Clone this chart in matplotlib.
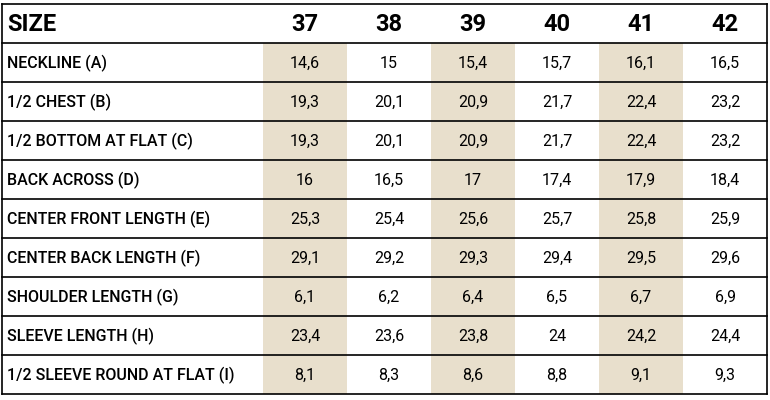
import matplotlib.pyplot as plt
from matplotlib.patches import Rectangle

sizes = ['37', '38', '39', '40', '41', '42']
measures = ['NECKLINE (A)', '1/2 CHEST (B)', '1/2 BOTTOM AT FLAT (C)', 'BACK ACROSS (D)',
            'CENTER FRONT LENGTH (E)', 'CENTER BACK LENGTH (F)', 'SHOULDER LENGTH (G)',
            'SLEEVE LENGTH (H)', '1/2 SLEEVE ROUND AT FLAT (I)']
values = [
    ['14,6', '15', '15,4', '15,7', '16,1', '16,5'],
    ['19,3', '20,1', '20,9', '21,7', '22,4', '23,2'],
    ['19,3', '20,1', '20,9', '21,7', '22,4', '23,2'],
    ['16', '16,5', '17', '17,4', '17,9', '18,4'],
    ['25,3', '25,4', '25,6', '25,7', '25,8', '25,9'],
    ['29,1', '29,2', '29,3', '29,4', '29,5', '29,6'],
    ['6,1', '6,2', '6,4', '6,5', '6,7', '6,9'],
    ['23,4', '23,6', '23,8', '24', '24,2', '24,4'],
    ['8,1', '8,3', '8,6', '8,8', '9,1', '9,3'],
]

plt.rcParams['font.family'] = 'Roboto'
fig = plt.figure(figsize=(7.7, 4), dpi=100)
ax = fig.add_axes([0, 0, 1, 1])
ax.set_xlim(0, 770)
ax.set_ylim(400, 0)
ax.axis('off')

left, right = 2, 767
top, head = 4, 43
rowh = 39
col0 = 263
colw = 84
shade = '#E8DFCC'

bottom = head + rowh * len(measures)
for j in range(0, len(sizes), 2):
    ax.add_patch(Rectangle((col0 + j * colw, head), colw, bottom - head, color=shade, lw=0))

ax.text(7, (top + head) / 2 + 1, 'SIZE', fontsize=17, fontweight='bold', va='center')
for j, s in enumerate(sizes):
    ax.text(col0 + (j + 0.5) * colw, (top + head) / 2 + 1, s, fontsize=17,
            fontweight='bold', ha='center', va='center')

for i, m in enumerate(measures):
    yc = head + (i + 0.5) * rowh + 1
    ax.text(7, yc, m, fontsize=11.5, fontweight='medium', va='center')
    for j, v in enumerate(values[i]):
        ax.text(col0 + (j + 0.5) * colw, yc, v, fontsize=11.5, ha='center', va='center')

for k in range(len(measures) + 1):
    y = head + k * rowh
    ax.plot([left, right], [y, y], color='black', lw=1.2)
ax.plot([left, right], [top, top], color='black', lw=1.2)
ax.plot([left, left], [top, bottom], color='black', lw=1.2)
ax.plot([right, right], [top, bottom], color='black', lw=1.2)

fig.savefig('out.png', dpi=100)
